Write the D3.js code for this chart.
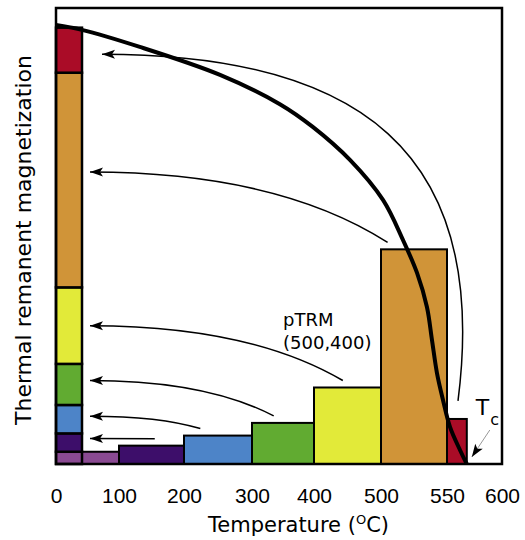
<!DOCTYPE html>
<html>
<head>
<meta charset="utf-8">
<script src="https://cdn.jsdelivr.net/npm/d3@7"></script>
<style>
  body { margin: 0; background: #fff; }
  svg { display: block; font-family: "Comic Sans MS", "DejaVu Sans", sans-serif; }
</style>
</head>
<body>
<div id="chart"></div>
<script>
// temperature ticks (the axis is stretched above 500)
var tempTicks = [0, 100, 200, 300, 400, 500, 550, 600];
var tickPx = [56, 119, 184, 252, 314, 381, 447, 502];

// pTRM gained in each temperature step
var binLo = [0, 100, 200, 300, 400, 500, 550];
var binHi = [100, 200, 300, 400, 500, 550, 568];
var pTRM = [2.8, 4.2, 6.5, 9.4, 17.5, 49.1, 10.3];
var binColors = ["#8a4a92", "#3d0e6a", "#4d84c8", "#61ab31", "#e2ea39", "#d09438", "#aa0c27"];

// total TRM vs temperature (thick curve)
var curveT = [0, 41, 132, 253, 345, 398, 454, 501.5, 516.7, 527.3, 534.8, 538.6, 542.4, 547, 552.7, 561.8, 568];
var curveM = [100.4, 99.3, 95.4, 89.0, 82.3, 77.1, 69.5, 60.4, 51.2, 43.7, 35.9, 28.4, 20.8, 14.6, 8.5, 3.2, 0];

// arrows from each step to the stacked column (temperature of the tail)
var arrowBin = [1, 2, 3, 4, 5, 6];
var arrowTailT = [155, 224, 335, 443, 505, 560];
var arrowTipNudge = [-4, -3, -4, 0, -8, 4];
var Tc = 568;

var width = 525, height = 540;
var stackW = 26;

var x = d3.scaleLinear().domain(tempTicks).range(tickPx);
var y = d3.scaleLinear().domain([0, 104.3]).range([464, 8]);

var svg = d3.select("#chart").append("svg")
  .attr("width", width)
  .attr("height", height);

var defs = svg.append("defs");
defs.append("marker")
  .attr("id", "head")
  .attr("markerUnits", "userSpaceOnUse")
  .attr("viewBox", "-14 -5 15 10")
  .attr("refX", 0).attr("refY", 0)
  .attr("markerWidth", 15).attr("markerHeight", 10)
  .attr("orient", "auto")
  .append("path")
  .attr("d", "M0,0L-13,-4.5L-10,0L-13,4.5Z")
  .style("fill", "#000");

// cumulative stack
var cum = [];
var s = 0;
pTRM.forEach(function(v) { cum.push([s, s + v]); s += v; });

// step bars
svg.append("g").selectAll("rect.bar")
  .data(pTRM)
  .enter().append("rect")
  .attr("class", "bar")
  .attr("x", function(d, i) { return i == 0 ? x(0) + stackW : x(binLo[i]); })
  .attr("width", function(d, i) { return x(binHi[i]) - (i == 0 ? x(0) + stackW : x(binLo[i])); })
  .attr("y", function(d) { return y(d); })
  .attr("height", function(d) { return y(0) - y(d); })
  .style("fill", function(d, i) { return binColors[i]; })
  .style("stroke", "#000")
  .style("stroke-width", 2);

// stacked column at 0
svg.append("g").selectAll("rect.seg")
  .data(cum)
  .enter().append("rect")
  .attr("class", "seg")
  .attr("x", x(0))
  .attr("width", stackW)
  .attr("y", function(d) { return y(d[1]); })
  .attr("height", function(d) { return y(d[0]) - y(d[1]); })
  .style("fill", function(d, i) { return binColors[i]; })
  .style("stroke", "#000")
  .style("stroke-width", 2.5);

// thick TRM curve
var line = d3.line()
  .x(function(d) { return x(d[0]); })
  .y(function(d) { return y(d[1]); })
  .curve(d3.curveCatmullRom);

svg.append("path")
  .datum(curveT.map(function(t, i) { return [t, curveM[i]]; }))
  .attr("d", line)
  .style("fill", "none")
  .style("stroke", "#000")
  .style("stroke-width", 4);

// arrows
svg.append("g").selectAll("path.arrow")
  .data(arrowBin)
  .enter().append("path")
  .attr("class", "arrow")
  .attr("d", function(b, i) {
    var tail = [x(arrowTailT[i]), y(pTRM[b]) - (b == 6 ? 18 : 7)];
    var mid = (cum[b][0] + cum[b][1]) / 2;
    var tip = [x(0) + stackW + (b == 6 ? 20 : 8), y(mid) + arrowTipNudge[i]];
    if (b == 6) {
      var c1 = [tip[0] + 0.72 * (tail[0] - tip[0]), tip[1]];
      var c2 = [tail[0] + 32, tail[1] - 250];
      return "M" + tail + "C" + c2 + " " + c1 + " " + tip;
    }
    var c = [tip[0] + 0.63 * (tail[0] - tip[0]), tip[1]];
    return "M" + tail + "Q" + c + " " + tip;
  })
  .style("fill", "none")
  .style("stroke", "#000")
  .style("stroke-width", 1.5)
  .attr("marker-end", "url(#head)");

// Tc pointer
var tcTip = [x(Tc) + 5, y(0) - 7];
svg.append("line")
  .attr("x1", tcTip[0] + 18).attr("y1", tcTip[1] - 27)
  .attr("x2", tcTip[0]).attr("y2", tcTip[1])
  .style("stroke", "#999")
  .style("stroke-width", 1)
  .attr("marker-end", "url(#head)");

var tcLabel = svg.append("text")
  .attr("x", x(Tc) + 9)
  .attr("y", 415)
  .style("font-size", "22px")
  .text("T");
tcLabel.append("tspan")
  .attr("dy", 10)
  .attr("dx", 1)
  .style("font-size", "16px")
  .text("c");

// pTRM label
var pl = svg.append("text")
  .attr("x", x(350))
  .attr("y", 326)
  .style("font-size", "18px");
pl.append("tspan").attr("x", x(350)).text("pTRM");
pl.append("tspan").attr("x", x(350)).attr("dy", 23).text("(500,400)");

// frame
svg.append("rect")
  .attr("x", x(0)).attr("y", y(104.3))
  .attr("width", x(600) - x(0))
  .attr("height", y(0) - y(104.3))
  .style("fill", "none")
  .style("stroke", "#000")
  .style("stroke-width", 2.5);

// x axis
var xAxis = d3.axisBottom(x).tickValues(tempTicks).tickSize(0).tickFormat(d3.format("d"));
var ax = svg.append("g")
  .attr("transform", "translate(0," + y(0) + ")")
  .call(xAxis);
ax.select(".domain").remove();
ax.selectAll("text")
  .attr("y", 39)
  .attr("dy", null)
  .style("font-family", "inherit")
  .style("font-size", "21px")
  .style("fill", "#000");

var xl = svg.append("text")
  .attr("x", 208)
  .attr("y", 532)
  .style("font-size", "21px")
  .text("Temperature (");
xl.append("tspan").attr("dy", -8).style("font-size", "13px").text("O");
xl.append("tspan").attr("dy", 8).text("C)");

svg.append("text")
  .attr("transform", "rotate(-90)")
  .attr("x", -240)
  .attr("y", 31)
  .style("text-anchor", "middle")
  .style("font-size", "22px")
  .text("Thermal remanent magnetization");
</script>
</body>
</html>
